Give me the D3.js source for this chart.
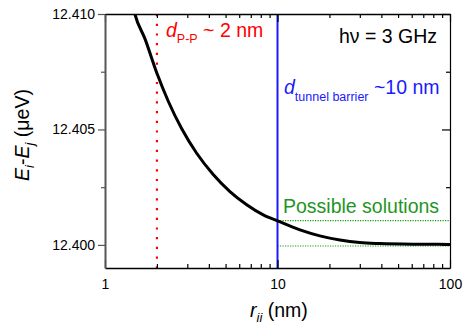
<!DOCTYPE html>
<html>
<head>
<meta charset="utf-8">
<script src="https://cdn.jsdelivr.net/npm/d3@7"></script>
<style>
  body { margin: 0; background: #fff; }
  svg { font-family: "Liberation Sans", Arial, Helvetica, sans-serif; }
</style>
</head>
<body>
<svg id="chart" width="463" height="326"></svg>
<script>
// ── Data ──────────────────────────────────────────────────────
const rValues = [1.4, 1.49, 1.71, 2.0, 2.33, 2.78, 3.4, 4.24, 5.3, 6.63, 8.27, 10, 13.5, 17.6, 23, 30, 39, 67, 100];
const energyValues = [12.4109, 12.41000, 12.40890, 12.40743, 12.40621, 12.40504, 12.40397, 12.40305, 12.40231,
  12.40174, 12.40130, 12.40104, 12.40065, 12.40039, 12.40021, 12.40010, 12.40006, 12.40003, 12.40002];
const solutionLevels = [12.40105, 12.39995];   // green dotted lines, from r = 10 to 100
const dPP = 2;                                 // red dotted marker
const dTunnel = 10;                            // blue marker
const yTicks = [12.400, 12.405, 12.410];
const yMinor = [12.4025, 12.4075];
const xTicks = [1, 10, 100];
const xMinor = [2, 3, 4, 5, 6, 7, 8, 9, 20, 30, 40, 50, 60, 70, 80, 90];

const svg = d3.select("#chart");
const L = 105, R = 450, T = 14, B = 268;

const x = d3.scaleLog().domain([1, 100]).range([L, R]);
const y = d3.scaleLinear().domain([12.399, 12.410]).range([B, T]);

svg.append("defs").append("clipPath").attr("id", "plot")
  .append("rect").attr("x", L).attr("y", T).attr("width", R - L).attr("height", B - T);

const plot = svg.append("g").attr("clip-path", "url(#plot)");

// Marker lines
plot.append("line")
  .attr("x1", x(dPP)).attr("x2", x(dPP)).attr("y1", T).attr("y2", B)
  .attr("stroke", "#ff0000").attr("stroke-width", 2.2)
  .attr("stroke-dasharray", "2.2 7.5");

plot.selectAll("line.sol")
  .data(solutionLevels)
  .join("line")
  .attr("class", "sol")
  .attr("x1", x(dTunnel)).attr("x2", x(100))
  .attr("y1", (d) => y(d)).attr("y2", (d) => y(d))
  .attr("stroke", "#1a9a1a").attr("stroke-width", 1.1)
  .attr("stroke-dasharray", "1.2 1.3");

plot.append("line")
  .attr("x1", x(dTunnel)).attr("x2", x(dTunnel)).attr("y1", T).attr("y2", B)
  .attr("stroke", "#1a1aff").attr("stroke-width", 2);

// Curve
const data = rValues.map((r, i) => ({ r, e: energyValues[i] }));
plot.append("path")
  .datum(data)
  .attr("fill", "none")
  .attr("stroke", "#000")
  .attr("stroke-width", 3)
  .attr("d", d3.line().x((d) => x(d.r)).y((d) => y(d.e)).curve(d3.curveMonotoneX));

// ── Axes ──────────────────────────────────────────────────────
const axisStyle = (g, color, w) => {
  g.selectAll("path").attr("stroke", color).attr("stroke-width", w);
  g.selectAll("line").attr("stroke", color).attr("stroke-width", 1.2);
  g.selectAll("text").attr("fill", "#000").attr("font-size", 14);
};

// bottom
svg.append("g").attr("transform", `translate(0,${B})`)
  .call(d3.axisBottom(x).tickValues(xTicks).tickFormat(d3.format("d"))
    .tickSizeInner(-8).tickSizeOuter(0).tickPadding(11))
  .call((g) => axisStyle(g, "#000", 1.5));
svg.append("g").attr("transform", `translate(0,${B})`)
  .call(d3.axisBottom(x).tickValues(xMinor).tickFormat("").tickSizeInner(-4).tickSizeOuter(0))
  .call((g) => { g.select(".domain").remove(); axisStyle(g, "#000", 1); });

// top
svg.append("g").attr("transform", `translate(0,${T})`)
  .call(d3.axisTop(x).tickValues(xTicks).tickFormat("").tickSizeInner(-8).tickSizeOuter(0))
  .call((g) => axisStyle(g, "#000", 1.5));
svg.append("g").attr("transform", `translate(0,${T})`)
  .call(d3.axisTop(x).tickValues(xMinor).tickFormat("").tickSizeInner(-4).tickSizeOuter(0))
  .call((g) => { g.select(".domain").remove(); axisStyle(g, "#000", 1); });

// left
svg.append("g").attr("transform", `translate(${L},0)`)
  .call(d3.axisLeft(y).tickValues(yTicks).tickFormat(d3.format(".3f"))
    .tickSizeInner(7).tickSizeOuter(0).tickPadding(3))
  .call((g) => axisStyle(g, "#555", 2));
svg.append("g").attr("transform", `translate(${L},0)`)
  .call(d3.axisLeft(y).tickValues(yMinor).tickFormat("").tickSizeInner(4).tickSizeOuter(0))
  .call((g) => { g.select(".domain").remove(); axisStyle(g, "#555", 1); });

// right
svg.append("g").attr("transform", `translate(${R},0)`)
  .call(d3.axisRight(y).tickValues(yTicks).tickFormat("").tickSizeInner(-8).tickSizeOuter(0))
  .call((g) => axisStyle(g, "#000", 1.2));
svg.append("g").attr("transform", `translate(${R},0)`)
  .call(d3.axisRight(y).tickValues(yMinor).tickFormat("").tickSizeInner(-4).tickSizeOuter(0))
  .call((g) => { g.select(".domain").remove(); axisStyle(g, "#000", 1); });

// ── Axis titles ───────────────────────────────────────────────
const xt = svg.append("text").attr("x", 250).attr("y", 317)
  .attr("font-size", 19.5).attr("fill", "#000");
xt.append("tspan").attr("font-style", "italic").text("r");
xt.append("tspan").attr("font-style", "italic").attr("font-size", 13).attr("dy", 5).text("ii");
xt.append("tspan").attr("dy", -5).text(" (nm)");

const yt = svg.append("text").attr("transform", "translate(29,135) rotate(-90)")
  .attr("text-anchor", "middle").attr("font-size", 19.5).attr("fill", "#000");
yt.append("tspan").attr("font-style", "italic").text("E");
yt.append("tspan").attr("font-style", "italic").attr("font-size", 13).attr("dy", 5).text("i");
yt.append("tspan").attr("dy", -5).text("-");
yt.append("tspan").attr("font-style", "italic").text("E");
yt.append("tspan").attr("font-style", "italic").attr("font-size", 13).attr("dy", 5).text("j");
yt.append("tspan").attr("dy", -5).text(" (\u03bceV)");

// ── Annotations ───────────────────────────────────────────────
const a1 = svg.append("text").attr("x", 166).attr("y", 37).attr("font-size", 19.5).attr("fill", "#ff0000");
a1.append("tspan").attr("font-style", "italic").text("d");
a1.append("tspan").attr("font-size", 12.5).attr("dy", 6).text("P-P");
a1.append("tspan").attr("dy", -6).text(" ~ 2 nm");

svg.append("text").attr("x", 437).attr("y", 43).attr("text-anchor", "end")
  .attr("font-size", 19.5).attr("fill", "#000").text("h\u03bd = 3 GHz");

const a2 = svg.append("text").attr("x", 284).attr("y", 94).attr("font-size", 19.5).attr("fill", "#1a1aff");
a2.append("tspan").attr("font-style", "italic").text("d");
a2.append("tspan").attr("font-size", 12.5).attr("dy", 7).text("tunnel barrier");
a2.append("tspan").attr("dy", -7).text(" ~10 nm");

svg.append("text").attr("x", 283).attr("y", 213).attr("font-size", 19.5)
  .attr("fill", "#1f951f").text("Possible solutions");
</script>
</body>
</html>
